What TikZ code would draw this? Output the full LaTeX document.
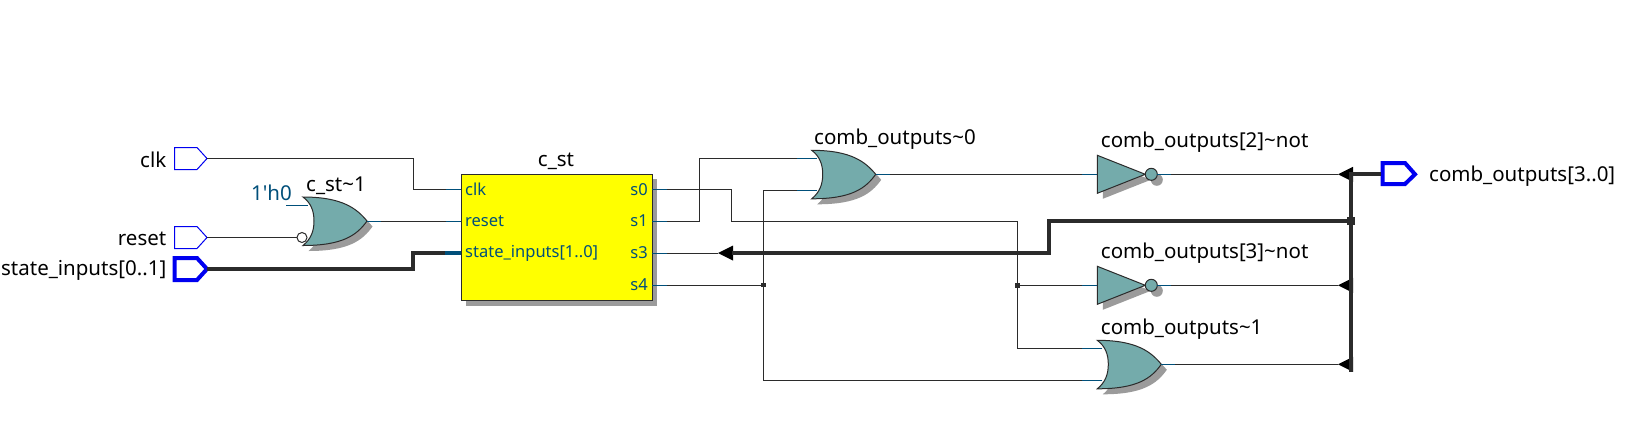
\documentclass[tikz,border=0pt]{standalone}
\usepackage{fontspec}
\setmainfont{Noto Sans}
\definecolor{gatefill}{HTML}{74ABAB}
\definecolor{shadowgrey}{HTML}{9B9B9B}
\definecolor{wirecol}{HTML}{2B2B2B}
\definecolor{pinblue}{HTML}{004F7A}
\definecolor{portblue}{HTML}{0000F0}
\definecolor{blockyellow}{RGB}{255,255,0}
\tikzset{
 x=1pt,y=-1pt,
 wire/.style={draw=wirecol,line width=1pt},
 bus/.style={draw=wirecol,line width=4pt,line join=miter},
 stub/.style={draw=pinblue,line width=1pt},
 busstub/.style={draw=pinblue,line width=4pt},
 lbl/.style={font=\fontsize{20.5}{22}\selectfont,inner sep=0pt,text=black},
 pinlbl/.style={font=\fontsize{16.5}{18}\selectfont,inner sep=0pt,text=pinblue},
 gateshape/.style={draw=wirecol,line width=1pt,fill=gatefill},
 shadowshape/.style={fill=shadowgrey,draw=none},
 joint/.style={fill=wirecol,draw=none,inner sep=0pt,minimum size=#1,rectangle},
 tip/.style={fill=black,draw=none},
 port/.style={draw=portblue,line width=1pt,fill=white},
 busport/.style={draw=portblue,line width=4pt,fill=white,line join=miter},
}
% OR gate outline, origin at the top-left corner
\newcommand{\orpath}{(0,0) .. controls (40,0) and (54,12) .. (64,24) .. controls (54,38) and (40,48.5) .. (0,48.5) .. controls (8,42) and (11,34) .. (11,24) .. controls (11,14) and (8,6) .. (0,0) -- cycle}
\newcommand{\orgate}[3]{%
 \fill[shadowshape,shift={(#2+5.5,#3+5.5)}] \orpath;
 \draw[gateshape,shift={(#2,#3)}] \orpath;
 \coordinate (#1-a) at (#2+5,#3+8);
 \coordinate (#1-b) at (#2+5,#3+40);
 \coordinate (#1-o) at (#2+64,#3+24);
}
% inverter, origin at the left-hand middle
\newcommand{\notgate}[3]{%
 \fill[shadowshape,shift={(#2+5.5,#3+5.5)}] (0,-19) -- (48,0) -- (0,19) -- cycle;
 \fill[shadowshape] (#2+54+5.5,#3+5.5) circle (6);
 \draw[gateshape,shift={(#2,#3)}] (0,-19) -- (48,0) -- (0,19) -- cycle;
 \draw[gateshape] (#2+54,#3) circle (6);
 \coordinate (#1-a) at (#2,#3);
 \coordinate (#1-o) at (#2+60,#3);
}
% input port, origin at the top-left corner
\newcommand{\inport}[5]{%
 \draw[#5] (#2,#3) -- (#2+22.5,#3) -- (#2+32.5,#3+11) -- (#2+22.5,#3+22) -- (#2,#3+22) -- cycle;
 \coordinate (#1) at (#2+32.5,#3+11);
 \node[lbl,anchor=east] (#1-l) at (#2-8,#3+12) {#4};
}
% arrow tip pointing left
\newcommand{\ltip}[3]{\fill[tip] (#2,#3) -- (#2+15,#3-7.5) -- (#2+15,#3+7.5) -- cycle; \coordinate (#1) at (#2,#3);}
\begin{document}
\begin{tikzpicture}
\useasboundingbox (0,0) rectangle (1630,429);
\fill[white] (0,0) rectangle (1630,429);

% block
\fill[shadowshape] (466,179) rectangle (657,305.5);
\node[draw=wirecol,line width=1pt,fill=blockyellow,minimum width=191pt,minimum height=126.5pt,inner sep=0pt,anchor=north west] (cst) at (460.5,173.5) {};
\node[lbl] (cstl) at (556,161) {c\_st};
\node[pinlbl,anchor=west] (pclk) at (465,189.5) {clk};
\node[pinlbl,anchor=west] (preset) at (465,221) {reset};
\node[pinlbl,anchor=west] (pstate) at (465,253) {state\_inputs[1..0]};
\node[pinlbl,anchor=east] (ps0) at (648,189.5) {s0};
\node[pinlbl,anchor=east] (ps1) at (648,221) {s1};
\node[pinlbl,anchor=east] (ps3) at (648,253) {s3};
\node[pinlbl,anchor=east] (ps4) at (648,285) {s4};
\coordinate (cclk) at (461,189.5);
\coordinate (creset) at (461,221);
\coordinate (cstate) at (461,253);
\coordinate (cs0) at (652,189.5);
\coordinate (cs1) at (652,221);
\coordinate (cs3) at (652,253);
\coordinate (cs4) at (652,285);

\coordinate (j1) at (763.3,285);
\coordinate (j2) at (1017.7,285.3);
\coordinate (j3) at (1351,221);

\inport{clk}{174.5}{147.5}{clk}{port}
\inport{reset}{174.5}{226.5}{reset}{port}
\inport{sti}{174.5}{258}{state\_inputs[0..1]}{busport}

\orgate{g1}{303}{197}
\orgate{g2}{811.7}{150.3}
\orgate{g3}{1097.3}{340.3}
\notgate{n1}{1097.3}{174.3}
\notgate{n2}{1097.3}{285.3}

\coordinate (h0) at (286,205);
\coordinate (bub) at (302,237.5);
\node[pinlbl,anchor=east,font=\fontsize{20.5}{22}\selectfont] (h0l) at (292,193) {1\textquotesingle h0};
\node[lbl] (g1l) at (336,186) {c\_st\~{}1};
\node[lbl,anchor=west] (g2l) at (814,139) {comb\_outputs\~{}0};
\node[lbl,anchor=west] (n1l) at (1100.7,142) {comb\_outputs[2]\~{}not};
\node[lbl,anchor=west] (n2l) at (1100.7,253) {comb\_outputs[3]\~{}not};
\node[lbl,anchor=west] (g3l) at (1100.7,329) {comb\_outputs\~{}1};

\draw[wire] (clk) -- (413.5,158.5) -- (413.5,189.5) -- (cclk);
\draw[wire] (reset) -- (bub);
\draw[stub] (h0) -- (g1-a);
\draw[gateshape,fill=white] (bub) circle (5);
\draw[bus] (sti) -- (413,269) -- (413,253) -- (cstate);
\draw[wire] (g1-o) -- (creset);

\draw[wire] (cs0) -- (731.7,189.5) -- (731.7,221) -- (1017.7,221) -- (j2) -- (1017.7,348.3) -- (g3-a);
\draw[wire] (j2) -- (n2-a);
\draw[wire] (cs1) -- (699,221) -- (699,158.3) -- (g2-a);
\draw[wire] (cs4) -- (j1);
\draw[wire] (g2-b) -- (763.3,190.3) -- (j1) -- (763.3,380.3) -- (g3-b);
\draw[wire] (g2-o) -- (n1-a);

\ltip{t1}{1338}{174.3}
\ltip{t2}{1338}{285.3}
\ltip{t3}{1338}{364.3}
\ltip{t4}{718}{253}
\draw[wire] (n1-o) -- (t1);
\draw[wire] (n2-o) -- (t2);
\draw[wire] (g3-o) -- (t3);
\draw[wire] (cs3) -- (t4);

\coordinate (busT) at (1351,174.3);
\coordinate (busB) at (1351,372);
\draw[bus] (busT) -- (busB);
\draw[bus] (j3) -- (1049,221) -- (1049,253) -- (732,253);
\node[joint=8pt] (jj3) at (j3) {};
\node[joint=4.5pt] (jj1) at (j1) {};
\node[joint=4.5pt] (jj2) at (j2) {};

% output port
\draw[busport] (1382.7,163) -- (1405,163) -- (1415,174.3) -- (1405,184) -- (1382.7,184) -- cycle;
\coordinate (outp) at (1381,174.3);
\draw[bus] (1349,174.3) -- (outp);
\node[lbl,anchor=west] (outl) at (1429,176) {comb\_outputs[3..0]};

% blue pin stubs
\draw[stub] (446,189.5) -- (cclk);
\draw[stub] (446,221) -- (creset);
\draw[busstub] (445,253) -- (cstate);
\draw[stub] (cs0) -- (667,189.5);
\draw[stub] (cs1) -- (667,221);
\draw[stub] (cs3) -- (667,253);
\draw[stub] (cs4) -- (667,285);
\draw[stub] (g1-o) -- ++(14,0);
\draw[stub] (g2-a) -- ++(-20,0);
\draw[stub] (g2-b) -- ++(-20,0);
\draw[stub] (g2-o) -- ++(14,0);
\draw[stub] (g3-a) -- ++(-20,0);
\draw[stub] (g3-b) -- ++(-20,0);
\draw[stub] (g3-o) -- ++(14,0);
\draw[stub] (n1-a) -- ++(-15,0);
\draw[stub] (n2-a) -- ++(-15,0);
\draw[stub] (n1-o) -- ++(14,0);
\draw[stub] (n2-o) -- ++(14,0);
\end{tikzpicture}
\end{document}
